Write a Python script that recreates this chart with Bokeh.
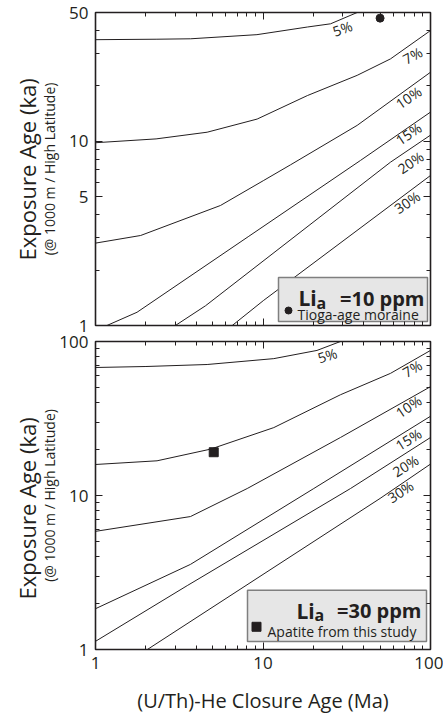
import numpy as np
from bokeh.plotting import figure
from bokeh.models import LogAxis, FixedTicker, NumeralTickFormatter, Title, Range1d
from bokeh.layouts import column
from bokeh.core.properties import value
from bokeh.embed import file_html
from bokeh.resources import INLINE

FONT = "Open Sans"
INK = "#231f20"

# ---------------- data ----------------
x_ticks = [1, 10, 100]
x_minor = [2, 3, 4, 5, 6, 7, 8, 9, 20, 30, 40, 50, 60, 70, 80, 90]
top_y_ticks = [1, 5, 10, 50]
top_y_minor = [2, 3, 4, 6, 7, 8, 9, 20, 30, 40]
bot_y_ticks = [1, 10, 100]
bot_y_minor = [2, 3, 4, 5, 6, 7, 8, 9, 20, 30, 40, 50, 60, 70, 80, 90]

curve_labels = ["5%", "7%", "10%", "15%", "20%", "30%"]

# Li_a = 10 ppm  (closure age Ma -> exposure age ka)
top_x_5 = [1, 2.3, 3.7, 9.2, 18.4, 25.3, 36.5]
top_y_5 = [35.6, 35.8, 36.0, 37.9, 41.7, 43.4, 50]
top_x_7 = [1, 2.3, 4.64, 9.23, 18.4, 36.5, 57.7, 100]
top_y_7 = [9.82, 10.3, 11.2, 13.2, 17.7, 22.8, 28.0, 39.9]
top_x_10 = [1, 1.86, 5.57, 10.1, 14.6, 36.5, 100]
top_y_10 = [2.80, 3.08, 4.48, 6.13, 7.45, 12.2, 23.7]
top_x_15 = [1.17, 1.77, 8.23, 38.2, 100]
top_y_15 = [1.0, 1.18, 3.05, 7.87, 14.4]
top_x_20 = [3.0, 4.54, 57.7, 100]
top_y_20 = [1.0, 1.28, 7.7, 10.8]
top_x_30 = [6.55, 10.1, 100]
top_y_30 = [1.0, 1.37, 6.52]

# Li_a = 30 ppm
bot_x_5 = [1, 2.0, 4.64, 11.6, 21.0, 29.0]
bot_y_5 = [67.8, 68.8, 70.9, 77.4, 87.5, 100]
bot_x_7 = [1, 2.33, 4.86, 11.6, 29.0, 57.7, 100]
bot_y_7 = [15.9, 16.8, 20.0, 27.6, 45.1, 62.1, 87.5]
bot_x_10 = [1, 3.69, 8.05, 29.0, 100]
bot_y_10 = [5.85, 7.30, 11.1, 23.8, 50.9]
bot_x_15 = [1, 3.69, 20.1, 100]
bot_y_15 = [1.84, 3.57, 11.1, 32.7]
bot_x_20 = [1, 3.53, 33.3, 100]
bot_y_20 = [1.13, 2.60, 11.1, 23.8]
bot_x_30 = [2.04, 50.0, 100]
bot_y_30 = [1.0, 9.57, 16.0]

# samples
tioga_x = [50.0]
tioga_y = [46.6]
apatite_x = [5.08]
apatite_y = [19.1]

# curve label anchors (data coords) and angles (deg)
top_lab_x = [29.8, 78.1, 73.9, 73.9, 76.0, 72.6]
top_lab_y = [41.0, 29.2, 17.3, 11.0, 7.67, 4.67]
top_lab_ang = [20, 29, 34, 34, 34, 34]
bot_lab_x = [24.2, 77.8, 73.9, 73.9, 70.9, 66.2]
bot_lab_y = [81.3, 66.8, 37.9, 23.2, 15.6, 10.6]
bot_lab_ang = [18, 30, 34, 32, 32, 33]

top_curves = [(top_x_5, top_y_5), (top_x_7, top_y_7), (top_x_10, top_y_10),
              (top_x_15, top_y_15), (top_x_20, top_y_20), (top_x_30, top_y_30)]
bot_curves = [(bot_x_5, bot_y_5), (bot_x_7, bot_y_7), (bot_x_10, bot_y_10),
              (bot_x_15, bot_y_15), (bot_x_20, bot_y_20), (bot_x_30, bot_y_30)]

Y_MAIN = "Exposure Age (ka)"
Y_SUB = "(@ 1000 m / High Latitude)"
X_LABEL = "(U/Th)-He Closure Age (Ma)"

# ---------------- layout geometry (page pixels) ----------------
W = 443
FR_L, FR_W = 95, 335
TOP_FRAME = (FR_L, 12, FR_W, 313, 50.0)
BOT_FRAME = (FR_L, 341, FR_W, 312, 100.0)


def page_to_data(frame, px, py):
    l, t, w, h, ymax = frame
    x = 10 ** (2.0 * (px - l) / w)
    y = 10 ** (np.log10(ymax) * (1 - (py - t) / h))
    return x, y


def style_axis(ax, ticks, minor, labels, standoff=7):
    ax.ticker = FixedTicker(ticks=ticks, minor_ticks=minor)
    ax.formatter = NumeralTickFormatter(format="0")
    ax.axis_line_color = None
    ax.major_tick_in = 7
    ax.major_tick_out = 0
    ax.minor_tick_in = 4
    ax.minor_tick_out = 0
    ax.major_tick_line_color = INK
    ax.minor_tick_line_color = INK
    ax.major_tick_line_width = 1
    ax.minor_tick_line_width = 1
    if labels:
        ax.major_label_text_font = FONT
        ax.major_label_text_font_size = "17px"
        ax.major_label_text_color = INK
        ax.major_label_standoff = standoff
    else:
        ax.major_label_overrides = {t: "" for t in ticks}
        ax.major_label_text_font_size = "0px"
        ax.major_label_standoff = 0


def make_fig(top_y, height, frame, yticks, yminor, xlabels):
    l, t, w, h, ymax = frame
    border_top = t - top_y
    border_bottom = height - border_top - h
    p = figure(width=W, height=height, x_axis_type="log", y_axis_type="log",
               x_range=Range1d(1, 100), y_range=Range1d(1, ymax),
               output_backend="svg", toolbar_location=None,
               min_border_left=l, min_border_right=W - l - w,
               min_border_top=border_top, min_border_bottom=border_bottom)
    p.grid.visible = False
    p.outline_line_color = INK
    p.outline_line_width = 1.6
    p.background_fill_color = "white"
    p.border_fill_color = "white"
    bottom_axis = p.below[0]
    left_axis = p.left[0]
    style_axis(bottom_axis, x_ticks, x_minor, xlabels)
    style_axis(left_axis, yticks, yminor, True)
    ra = LogAxis()
    style_axis(ra, yticks, yminor, False)
    p.add_layout(ra, "right")
    aa = LogAxis()
    style_axis(aa, x_ticks, x_minor, False)
    p.add_layout(aa, "above")
    return p, bottom_axis, left_axis


def add_ylabels(p, left_axis, sub_standoff, main_offset):
    left_axis.axis_label = Y_SUB
    left_axis.axis_label_text_font = FONT
    left_axis.axis_label_text_font_size = "14px"
    left_axis.axis_label_text_font_style = "normal"
    left_axis.axis_label_text_color = INK
    left_axis.axis_label_standoff = sub_standoff
    p.add_layout(Title(text=Y_MAIN, align="left", vertical_align="bottom",
                       text_font=FONT, text_font_size="22px", text_font_style="normal",
                       text_color=INK, standoff=-8, offset=main_offset), "left")


def draw_curves(p, curves, lx, ly, lang):
    for cx, cy in curves:
        p.line(cx, cy, line_color=INK, line_width=1)
    p.text(x=lx, y=ly, text=curve_labels, angle=list(np.radians(lang)),
           text_font=value(FONT), text_font_size="14px", text_color=INK,
           text_align="center", text_baseline="middle")


def draw_legend(p, frame, box, title_pos, sub_pos, num_text, right_px, item_marker,
                marker_pos, marker_size, item_text, item_pos):
    bl, bt, br, bb = box
    x0, y0 = page_to_data(frame, bl, bb)
    x1, y1 = page_to_data(frame, br, bt)
    p.quad(left=[x0], right=[x1], bottom=[y0], top=[y1], fill_color="#e6e6e6",
           line_color="#7f7f7f", line_width=1.5)
    tx, ty = page_to_data(frame, *title_pos)
    p.text(x=[tx], y=[ty], text=["Li"], text_font=value(FONT), text_font_size="21px",
           text_font_style="bold", text_color=INK, text_align="left",
           text_baseline="alphabetic")
    sx, sy = page_to_data(frame, *sub_pos)
    p.text(x=[sx], y=[sy], text=["a"], text_font=value(FONT), text_font_size="16px",
           text_font_style="bold", text_color=INK, text_align="left",
           text_baseline="alphabetic")
    nx, ny = page_to_data(frame, right_px, title_pos[1])
    p.text(x=[nx], y=[ny], text=[num_text], text_font=value(FONT), text_font_size="20px",
           text_font_style="bold", text_color=INK, text_align="right",
           text_baseline="alphabetic")
    mx, my = page_to_data(frame, *marker_pos)
    p.scatter(x=[mx], y=[my], marker=item_marker, size=marker_size, color=INK)
    ix, iy = page_to_data(frame, *item_pos)
    p.text(x=[ix], y=[iy], text=[item_text], text_font=value(FONT), text_font_size="14px",
           text_color=INK, text_align="left", text_baseline="alphabetic")


# ---------------- top panel ----------------
p1, _, ly1 = make_fig(0, 333, TOP_FRAME, top_y_ticks, top_y_minor, False)
add_ylabels(p1, ly1, 7, 65)
draw_curves(p1, top_curves, top_lab_x, top_lab_y, top_lab_ang)
p1.scatter(tioga_x, tioga_y, marker="circle", size=8, color=INK)
draw_legend(p1, TOP_FRAME, (278, 277, 427, 321), (298, 297.5), (316, 302), "=10 ppm", 424,
            "circle", (288, 310), 7, "Tioga-age moraine", (297, 313.5))

# ---------------- bottom panel ----------------
p2, xa, ly2 = make_fig(333, 383, BOT_FRAME, bot_y_ticks, bot_y_minor, True)
add_ylabels(p2, ly2, -3, 50)
xa.axis_label = X_LABEL
xa.axis_label_text_font = FONT
xa.axis_label_text_font_size = "20px"
xa.axis_label_text_font_style = "normal"
xa.axis_label_text_color = INK
xa.axis_label_standoff = 15
draw_curves(p2, bot_curves, bot_lab_x, bot_lab_y, bot_lab_ang)
p2.scatter(apatite_x, apatite_y, marker="square", size=9, color=INK)
draw_legend(p2, BOT_FRAME, (247, 593, 426, 645), (296, 613.5), (314, 618), "=30 ppm", 421,
            "square", (256, 630), 9, "Apatite from this study", (267, 635))

layout = column(p1, p2)
open("out.html", "w").write(file_html(layout, INLINE))
